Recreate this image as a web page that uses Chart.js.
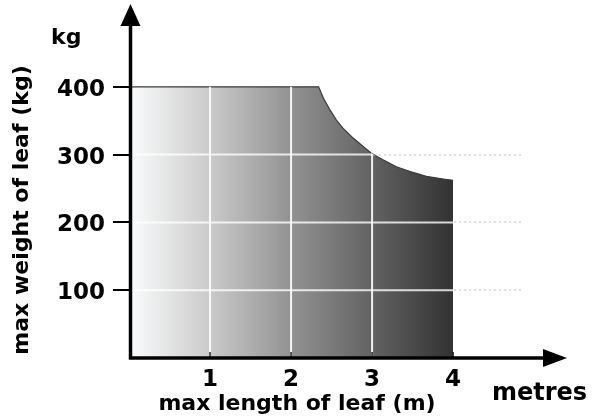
<!DOCTYPE html>
<html>
<head>
<meta charset="utf-8">
<script src="https://cdn.jsdelivr.net/npm/chart.js@4.4.1/dist/chart.umd.min.js"></script>
<style>
  html, body { margin: 0; padding: 0; background: #fff; }
  #wrap { width: 602px; height: 417px; }
</style>
</head>
<body>
<div id="wrap"><canvas id="leafChart"></canvas></div>
<script>
// leaf length (m) vs max weight (kg)
const lengthM  = [0,   2.34, 2.40, 2.48, 2.56, 2.64, 2.77, 2.89, 2.99, 3.14, 3.30, 3.47, 3.67, 3.88, 4.0];
const weightKg = [400, 400,  383,  366,  351,  339,  324,  312,  302,  292,  282,  275,  268,  264,  262];
const xTickValues = [1, 2, 3, 4];
const yTickValues = [100, 200, 300, 400];
const xTitle = 'max length of leaf (m)';
const yTitle = 'max weight of leaf (kg)';
const xUnit = 'metres';
const yUnit = 'kg';

const FONT = "'DejaVu Sans', Verdana, sans-serif";

function leafGradient(context) {
    const chart = context.chart;
    const { ctx, chartArea, scales } = chart;
    if (!chartArea) return '#888';
    const x0 = scales.x.getPixelForValue(0);
    const x1 = scales.x.getPixelForValue(4);
    const g = ctx.createLinearGradient(x0, 0, x1, 0);
    g.addColorStop(0, '#fbfcfd');
    g.addColorStop(0.25, '#cacaca');
    g.addColorStop(0.5, '#929292');
    g.addColorStop(0.75, '#626262');
    g.addColorStop(1, '#323232');
    return g;
}

// white grid inside the shaded area, axes with arrows, and the free texts
const decorations = {
    id: 'decorations',
    afterDatasetsDraw(chart) {
        const { ctx, chartArea, scales } = chart;
        const pts = chart.getDatasetMeta(0).data;
        const base = scales.y.getPixelForValue(0);

        // clip to the filled shape
        ctx.save();
        ctx.beginPath();
        ctx.moveTo(pts[0].x, base);
        pts.forEach(p => ctx.lineTo(p.x, p.y));
        ctx.lineTo(pts[pts.length - 1].x, base);
        ctx.closePath();
        ctx.clip();
        ctx.lineWidth = 2;
        ctx.strokeStyle = 'rgba(255,255,255,0.9)';
        [1, 2, 3].forEach(v => {
            const x = scales.x.getPixelForValue(v);
            ctx.beginPath(); ctx.moveTo(x, chartArea.top); ctx.lineTo(x, base); ctx.stroke();
        });
        ctx.strokeStyle = 'rgba(255,255,255,0.8)';
        [100, 200, 300].forEach(v => {
            const y = scales.y.getPixelForValue(v);
            ctx.beginPath(); ctx.moveTo(chartArea.left, y); ctx.lineTo(chartArea.right, y); ctx.stroke();
        });
        ctx.restore();

        ctx.save();
        ctx.fillStyle = '#000';
        ctx.strokeStyle = '#000';

        // tick marks
        ctx.lineWidth = 2;
        yTickValues.forEach(v => {
            const y = Math.round(scales.y.getPixelForValue(v));
            ctx.beginPath(); ctx.moveTo(113, y); ctx.lineTo(130, y); ctx.stroke();
        });
        ctx.lineWidth = 1.5;
        ctx.strokeStyle = '#222';
        xTickValues.forEach(v => {
            const x = scales.x.getPixelForValue(v);
            ctx.beginPath(); ctx.moveTo(x, base - 6); ctx.lineTo(x, base); ctx.stroke();
        });

        // axes
        ctx.strokeStyle = '#000';
        ctx.lineWidth = 3.5;
        const ax = 130.5;
        ctx.beginPath();
        ctx.moveTo(ax, base + 1.5);
        ctx.lineTo(ax, 20);
        ctx.moveTo(ax - 1.5, base);
        ctx.lineTo(550, base);
        ctx.stroke();

        // arrow heads
        ctx.beginPath();
        ctx.moveTo(ax, 4); ctx.lineTo(ax + 10, 26); ctx.lineTo(ax - 10, 26); ctx.closePath();
        ctx.fill();
        ctx.beginPath();
        ctx.moveTo(567, base); ctx.lineTo(543, base - 9); ctx.lineTo(543, base + 9); ctx.closePath();
        ctx.fill();

        // texts
        ctx.font = 'bold 22px ' + FONT;
        ctx.textBaseline = 'alphabetic';
        ctx.textAlign = 'left';
        ctx.fillText(yUnit, 51, 44);
        ctx.font = 'bold 24px ' + FONT;
        ctx.fillText(xUnit, 492, 400);
        ctx.font = 'bold 22px ' + FONT;
        ctx.textAlign = 'center';
        ctx.fillText(xTitle, 297, 410);

        ctx.translate(28, 210);
        ctx.rotate(-Math.PI / 2);
        ctx.fillText(yTitle, 0, 0);
        ctx.restore();
    }
};

new Chart(document.getElementById('leafChart'), {
    type: 'line',
    data: {
        datasets: [{
            data: lengthM.map((x, i) => ({ x: x, y: weightKg[i] })),
            borderColor: '#3a3a3a',
            borderWidth: 1.2,
            backgroundColor: leafGradient,
            fill: 'origin',
            tension: 0,
            pointRadius: 0
        }]
    },
    options: {
        responsive: true,
        maintainAspectRatio: false,
        animation: false,
        events: [],
        layout: { autoPadding: false, padding: { top: 19, right: 80, left: 0, bottom: 0 } },
        plugins: { legend: { display: false }, tooltip: { enabled: false } },
        scales: {
            x: {
                type: 'linear',
                min: 0,
                max: 4.85,
                afterBuildTicks: s => { s.ticks = xTickValues.map(v => ({ value: v })); },
                afterFit: s => { s.height = 59; s.paddingLeft = 0; s.paddingRight = 0; },
                grid: { display: false, drawTicks: false },
                border: { display: false },
                ticks: {
                    color: '#000',
                    padding: 8,
                    maxRotation: 0,
                    font: { family: FONT, weight: 'bold', size: 23 }
                }
            },
            y: {
                min: 0,
                max: 500,
                afterBuildTicks: s => { s.ticks = yTickValues.map(v => ({ value: v })); },
                afterFit: s => { s.width = 129; s.paddingTop = 0; s.paddingBottom = 0; },
                grid: {
                    drawTicks: false,
                    lineWidth: 2,
                    color: c => (c.tick && c.tick.value === 400) ? 'rgba(0,0,0,0)' : '#e0e0e0'
                },
                border: { display: false, dash: [2, 3] },
                ticks: {
                    color: '#000',
                    padding: 24,
                    labelOffset: 3,
                    font: { family: FONT, weight: 'bold', size: 23 }
                }
            }
        }
    },
    plugins: [decorations]
});
</script>
</body>
</html>
